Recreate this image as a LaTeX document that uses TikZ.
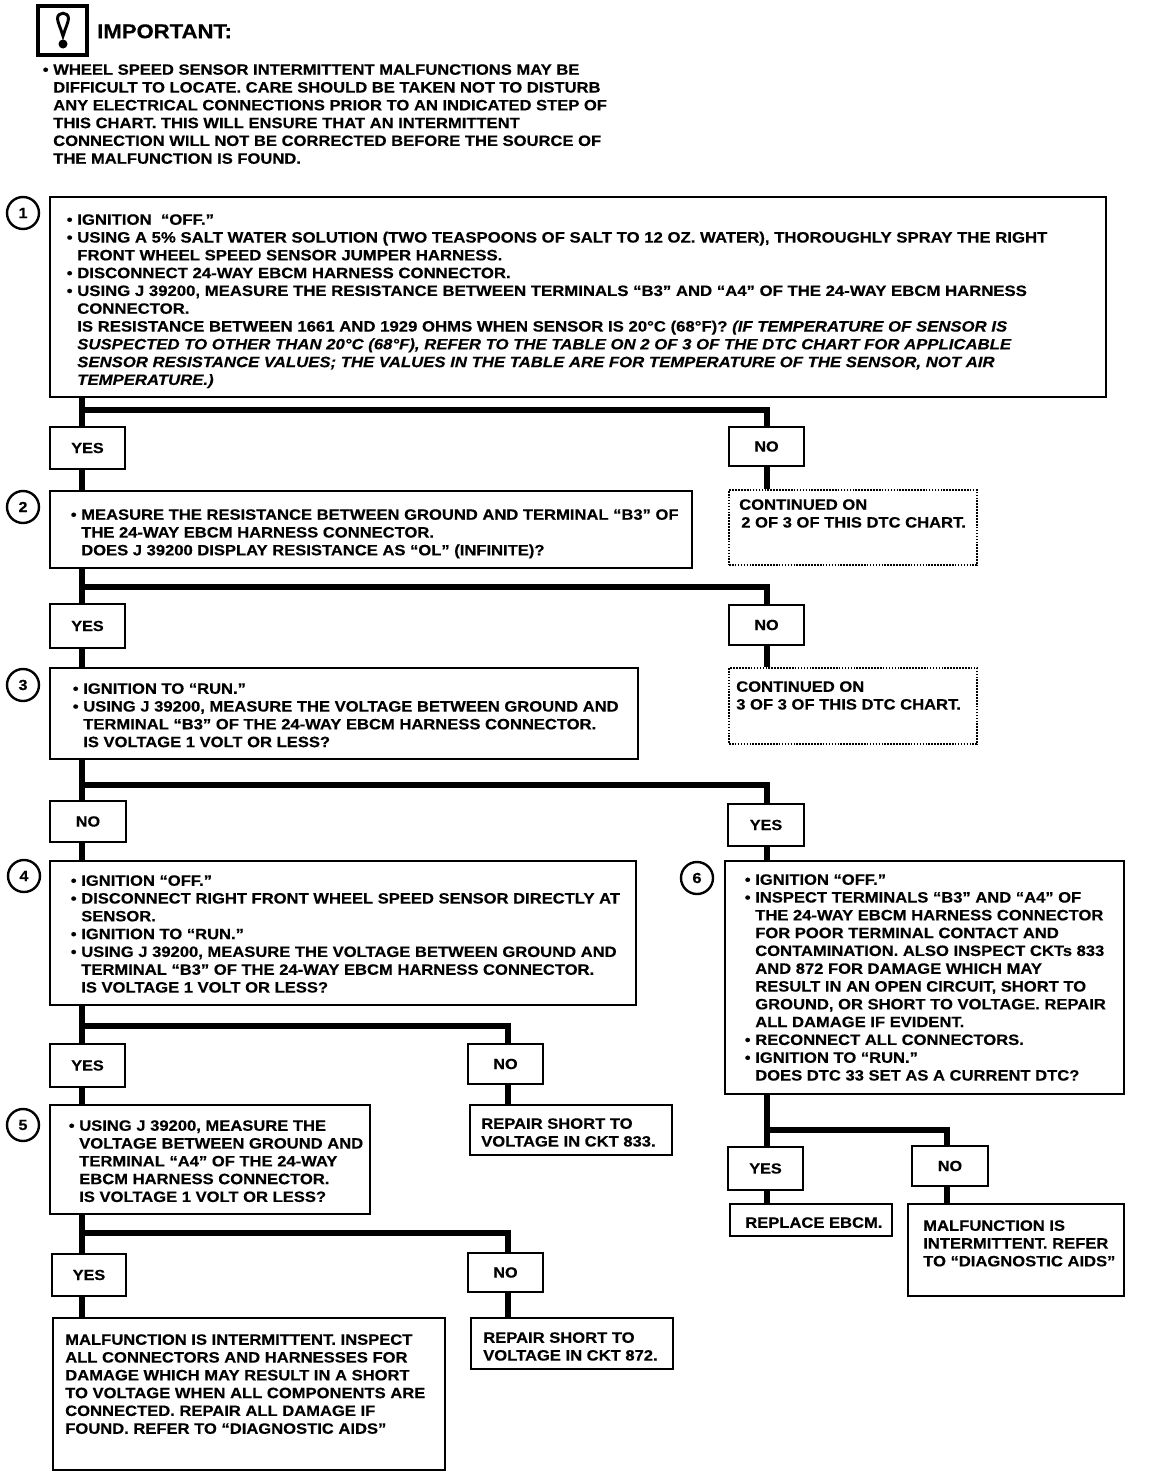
\documentclass[tikz,border=0pt]{standalone}
\usepackage{fontspec}
\setmainfont[FakeStretch=1.105,BoldFeatures={FakeBold=0.4},BoldItalicFeatures={FakeBold=0.4}]{Liberation Sans}
\newfontfamily\wideface[FakeStretch=1.116,BoldFeatures={FakeBold=0.4},BoldItalicFeatures={FakeBold=0.4}]{Liberation Sans}
\usetikzlibrary{fit}
\newcommand{\bul}{\llap{\textbullet\hspace{3.5pt}}}
\tikzset{
  stepbox/.style={draw,line width=2.2pt,inner sep=0pt,fill=white},
  contbox/.style={draw,densely dotted,line width=1.2pt,inner sep=0pt,fill=white},
  answer/.style={draw,line width=2.2pt,inner sep=0pt,fill=white,minimum width=56.25pt,font=\fontsize{11}{13}\selectfont\bfseries},
  steptext/.style={anchor=north west,inner sep=0pt,align=left,font=\fontsize{11.25}{13.35}\selectfont\bfseries},
  stepnum/.style={draw,circle,line width=1.8pt,minimum size=24pt,inner sep=0pt,font=\fontsize{11}{13}\selectfont\bfseries},
  link/.style={line width=4.2pt}
}
\begin{document}
\begin{tikzpicture}[x=0.75pt,y=-0.75pt]
\useasboundingbox (0,0) rectangle (1152,1478);

% connectors first
\coordinate (left1) at (82,410);
\coordinate (left2) at (82,587);
\coordinate (left3) at (82,785);
\coordinate (left4) at (82,1026);
\coordinate (left5) at (82,1233);
\coordinate (left6) at (767,1130);
\coordinate (right1) at (767,410);
\coordinate (right2) at (767,587);
\coordinate (right3) at (767,785);
\coordinate (right4) at (508,1026);
\coordinate (right5) at (508,1233);
\coordinate (right6) at (947,1130);

% warning
\node[draw,line width=3.2pt,inner sep=0pt,fit={(38,6) (87,55)}] (icon) {};
\draw[line width=2.2pt] (63,36) .. controls (61,29) and (57.5,22) .. (57.5,18.5) .. controls (57.5,11.5) and (68.5,11.5) .. (68.5,18.5) .. controls (68.5,22) and (65,29) .. (63,36) -- cycle;
\fill (63,44) circle (4.5);
\node[steptext,font=\fontsize{15}{18}\selectfont\bfseries] (title) at (97,24) {IMPORTANT:};
\node[steptext] (note) at (53,64) {\bul WHEEL SPEED SENSOR INTERMITTENT MALFUNCTIONS MAY BE\\
DIFFICULT TO LOCATE. CARE SHOULD BE TAKEN NOT TO DISTURB\\
ANY ELECTRICAL CONNECTIONS PRIOR TO AN INDICATED STEP OF\\
THIS CHART. THIS WILL ENSURE THAT AN INTERMITTENT\\
CONNECTION WILL NOT BE CORRECTED BEFORE THE SOURCE OF\\
THE MALFUNCTION IS FOUND.};

% boxes
\node[stepbox,fit={(50,197) (1106,397)}] (box1) {};
\node[stepbox,fit={(50,491) (692,568)}] (box2) {};
\node[stepbox,fit={(50,668) (638,759)}] (box3) {};
\node[stepbox,fit={(50,861) (636,1005)}] (box4) {};
\node[stepbox,fit={(50,1105) (370,1214)}] (box5) {};
\node[stepbox,fit={(725,861) (1124,1094)}] (box6) {};
\node[stepbox,fit={(53,1318) (445,1470)}] (check) {};
\node[stepbox,fit={(470,1105) (672,1155)}] (short833) {};
\node[stepbox,fit={(471,1318) (673,1369)}] (short872) {};
\node[stepbox,fit={(730,1204) (892,1236)}] (replace) {};
\node[stepbox,fit={(908,1204) (1124,1296)}] (aids) {};
\node[contbox,fit={(729,490) (977,565)}] (cont2) {};
\node[contbox,fit={(729,668) (977,744)}] (cont3) {};

% answers
\node[answer,minimum height=31.5pt] (yes1) at (87.5,448) {YES};
\node[answer,minimum height=29.25pt] (no1) at (766.5,446.5) {NO};
\node[answer,minimum height=33pt] (yes2) at (87.5,626) {YES};
\node[answer,minimum height=30pt] (no2) at (766.5,625) {NO};
\node[answer,minimum width=57pt,minimum height=30.75pt] (no3) at (88,821.5) {NO};
\node[answer,minimum width=57pt,minimum height=31.5pt] (yes3) at (766,825) {YES};
\node[answer,minimum height=32.25pt] (yes4) at (87.5,1065.5) {YES};
\node[answer,minimum height=30pt] (no4) at (505.5,1064) {NO};
\node[answer,minimum width=55.5pt,minimum height=31.5pt] (yes5) at (89,1275) {YES};
\node[answer,minimum height=29.25pt] (no5) at (505.5,1272.5) {NO};
\node[answer,minimum height=32.25pt] (yes6) at (765.5,1168.5) {YES};
\node[answer,minimum width=57pt,minimum height=30pt] (no6) at (950,1166) {NO};

% lines
\draw[link] (left1 |- box1.south) -- (left1 |- yes1.north);
\draw[link] (left1) -- (right1) -- (right1 |- no1.north);
\draw[link] (left1 |- yes1.south) -- (left1 |- box2.north);
\draw[link] (right1 |- no1.south) -- (right1 |- cont2.north);
\draw[link] (left2 |- box2.south) -- (left2 |- yes2.north);
\draw[link] (left2) -- (right2) -- (right2 |- no2.north);
\draw[link] (left2 |- yes2.south) -- (left2 |- box3.north);
\draw[link] (right2 |- no2.south) -- (right2 |- cont3.north);
\draw[link] (left3 |- box3.south) -- (left3 |- no3.north);
\draw[link] (left3) -- (right3) -- (right3 |- yes3.north);
\draw[link] (left3 |- no3.south) -- (left3 |- box4.north);
\draw[link] (right3 |- yes3.south) -- (right3 |- box6.north);
\draw[link] (left4 |- box4.south) -- (left4 |- yes4.north);
\draw[link] (left4) -- (right4) -- (right4 |- no4.north);
\draw[link] (left4 |- yes4.south) -- (left4 |- box5.north);
\draw[link] (right4 |- no4.south) -- (right4 |- short833.north);
\draw[link] (left5 |- box5.south) -- (left5 |- yes5.north);
\draw[link] (left5) -- (right5) -- (right5 |- no5.north);
\draw[link] (left5 |- yes5.south) -- (left5 |- check.north);
\draw[link] (right5 |- no5.south) -- (right5 |- short872.north);
\draw[link] (left6 |- box6.south) -- (left6 |- yes6.north);
\draw[link] (left6) -- (right6) -- (right6 |- no6.north);
\draw[link] (left6 |- yes6.south) -- (left6 |- replace.north);
\draw[link] (right6 |- no6.south) -- (right6 |- aids.north);

% step numbers
\node[stepnum] (num1) at (23,213) {1};
\node[stepnum] (num2) at (23,507) {2};
\node[stepnum] (num3) at (23,685) {3};
\node[stepnum] (num4) at (24,876) {4};
\node[stepnum] (num5) at (23,1125) {5};
\node[stepnum] (num6) at (697,878) {6};

% texts
\node[steptext,font=\fontsize{11.25}{13.35}\wideface\bfseries] (text1) at (77,214) {\bul IGNITION~~“OFF.”\\
\bul USING A 5\% SALT WATER SOLUTION (TWO TEASPOONS OF SALT TO 12 OZ. WATER), THOROUGHLY SPRAY THE RIGHT\\
FRONT WHEEL SPEED SENSOR JUMPER HARNESS.\\
\bul DISCONNECT 24-WAY EBCM HARNESS CONNECTOR.\\
\bul USING J 39200, MEASURE THE RESISTANCE BETWEEN TERMINALS “B3” AND “A4” OF THE 24-WAY EBCM HARNESS\\
CONNECTOR.\\
IS RESISTANCE BETWEEN 1661 AND 1929 OHMS WHEN SENSOR IS 20°C (68°F)? \textit{(IF TEMPERATURE OF SENSOR IS}\\
\textit{SUSPECTED TO OTHER THAN 20°C (68°F), REFER TO THE TABLE ON 2 OF 3 OF THE DTC CHART FOR APPLICABLE}\\
\textit{SENSOR RESISTANCE VALUES; THE VALUES IN THE TABLE ARE FOR TEMPERATURE OF THE SENSOR, NOT AIR}\\
\textit{TEMPERATURE.)}};
\node[steptext] (text2) at (81,509) {\bul MEASURE THE RESISTANCE BETWEEN GROUND AND TERMINAL “B3” OF\\
THE 24-WAY EBCM HARNESS CONNECTOR.\\
DOES J 39200 DISPLAY RESISTANCE AS “OL” (INFINITE)?};
\node[steptext] (text3) at (83,683) {\bul IGNITION TO “RUN.”\\
\bul USING J 39200, MEASURE THE VOLTAGE BETWEEN GROUND AND\\
TERMINAL “B3” OF THE 24-WAY EBCM HARNESS CONNECTOR.\\
IS VOLTAGE 1 VOLT OR LESS?};
\node[steptext] (text4) at (81,875) {\bul IGNITION “OFF.”\\
\bul DISCONNECT RIGHT FRONT WHEEL SPEED SENSOR DIRECTLY AT\\
SENSOR.\\
\bul IGNITION TO “RUN.”\\
\bul USING J 39200, MEASURE THE VOLTAGE BETWEEN GROUND AND\\
TERMINAL “B3” OF THE 24-WAY EBCM HARNESS CONNECTOR.\\
IS VOLTAGE 1 VOLT OR LESS?};
\node[steptext] (text5) at (79,1120) {\bul USING J 39200, MEASURE THE\\
VOLTAGE BETWEEN GROUND AND\\
TERMINAL “A4” OF THE 24-WAY\\
EBCM HARNESS CONNECTOR.\\
IS VOLTAGE 1 VOLT OR LESS?};
\node[steptext] (text6) at (755,874) {\bul IGNITION “OFF.”\\
\bul INSPECT TERMINALS “B3” AND “A4” OF\\
THE 24-WAY EBCM HARNESS CONNECTOR\\
FOR POOR TERMINAL CONTACT AND\\
CONTAMINATION. ALSO INSPECT CKTs 833\\
AND 872 FOR DAMAGE WHICH MAY\\
RESULT IN AN OPEN CIRCUIT, SHORT TO\\
GROUND, OR SHORT TO VOLTAGE. REPAIR\\
ALL DAMAGE IF EVIDENT.\\
\bul RECONNECT ALL CONNECTORS.\\
\bul IGNITION TO “RUN.”\\
DOES DTC 33 SET AS A CURRENT DTC?};
\node[steptext] (text7) at (65,1334) {MALFUNCTION IS INTERMITTENT. INSPECT\\
ALL CONNECTORS AND HARNESSES FOR\\
DAMAGE WHICH MAY RESULT IN A SHORT\\
TO VOLTAGE WHEN ALL COMPONENTS ARE\\
CONNECTED. REPAIR ALL DAMAGE IF\\
FOUND. REFER TO “DIAGNOSTIC AIDS”};
\node[steptext] (text8) at (481,1118) {REPAIR SHORT TO\\
VOLTAGE IN CKT 833.};
\node[steptext] (text9) at (483,1332) {REPAIR SHORT TO\\
VOLTAGE IN CKT 872.};
\node[steptext] (text10) at (745,1217) {REPLACE EBCM.};
\node[steptext] (text11) at (923,1220) {MALFUNCTION IS\\
INTERMITTENT. REFER\\
TO “DIAGNOSTIC AIDS”};
\node[steptext] (text12) at (739,499) {CONTINUED ON\\
\hspace*{1.5pt}2 OF 3 OF THIS DTC CHART.};
\node[steptext] (text13) at (736,681) {CONTINUED ON\\
3 OF 3 OF THIS DTC CHART.};
\end{tikzpicture}
\end{document}
